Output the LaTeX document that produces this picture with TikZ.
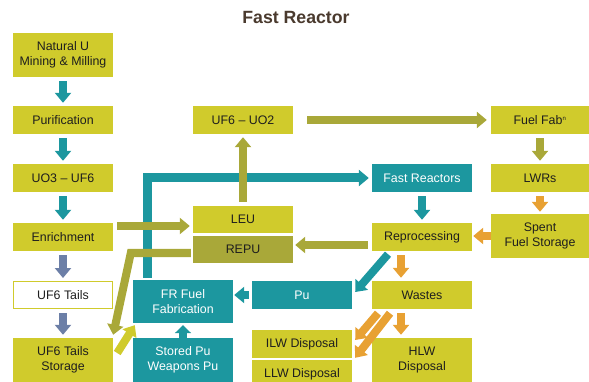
\documentclass[tikz,border=0pt]{standalone}
\usepackage{fontspec}
\setmainfont{Liberation Sans}
\usetikzlibrary{arrows.meta, calc}
\definecolor{cyel}{HTML}{D0CB2C}
\definecolor{cteal}{HTML}{1C979F}
\definecolor{colive}{HTML}{A9A839}
\definecolor{corange}{HTML}{E8A133}
\definecolor{cslate}{HTML}{6C7FA7}
\definecolor{ctitle}{HTML}{4A3A2E}
\definecolor{ctext}{HTML}{1E1E1E}
\tikzset{
  every picture/.style={font=\fontsize{12.4}{15}\selectfont},
  box/.style={fill=#1, text=ctext, align=center, inner sep=0pt, minimum width=100pt, minimum height=28pt},
  box/.default=cyel,
  tbox/.style={box=cteal, text=white},
  flow/.style={draw=#1, line width=8pt, shorten <=4pt, shorten >=3pt, -{Triangle[length=10pt, width=16pt]}},
  flow/.default=cteal,
  title/.style={font=\bfseries\fontsize{17.7}{20}\selectfont, text=ctitle},
}
\begin{document}
\begin{tikzpicture}[x=1pt, y=-1pt]
  \useasboundingbox (0,0) rectangle (589,382);
  \node[title] (title) at (296,18) {Fast Reactor};
  % left column
  \node[box, minimum height=44pt] (natu) at (63,55) {Natural U\\Mining \& Milling};
  \node[box] (purif) at (63,120) {Purification};
  \node[box] (uo3) at (63,178) {UO3 – UF6};
  \node[box] (enrich) at (63,237) {Enrichment};
  \node[box, fill=white, draw=cyel, line width=1pt, minimum width=99pt, minimum height=27pt] (tails) at (63,295) {UF6 Tails};
  \node[box, minimum height=44pt] (tailsstore) at (63,360) {UF6 Tails\\Storage};
  % middle
  \node[box] (uo2) at (243,120) {UF6 – UO2};
  \node[box, minimum height=27pt] (leu) at (243,219.5) {LEU};
  \node[box=colive, minimum height=27pt] (repu) at (243,249.5) {REPU};
  \node[tbox, minimum height=43pt] (frfab) at (183,301.5) {FR Fuel\\Fabrication};
  \node[tbox, minimum height=44pt] (storedpu) at (183,360) {Stored Pu\\Weapons Pu};
  \node[tbox] (pu) at (302,295) {Pu};
  \node[box] (ilw) at (302,344) {ILW Disposal};
  \node[box] (llw) at (302,374) {LLW Disposal};
  % right
  \node[tbox] (fastr) at (422,178) {Fast Reactors};
  \node[box] (reproc) at (422,237) {Reprocessing};
  \node[box] (wastes) at (422,295) {Wastes};
  \node[box, minimum height=44pt] (hlw) at (422,360) {HLW\\Disposal};
  \node[box, minimum width=98pt] (fuelfab) at (540,120) {Fuel Fab\textsuperscript{\fontsize{6}{6}\selectfont n}};
  \node[box, minimum width=98pt] (lwr) at (540,178) {LWRs};
  \node[box, minimum width=98pt, minimum height=44pt] (spent) at (540,236) {Spent\\Fuel Storage};

  % FR fuel back to the reactors
  \coordinate (f1) at ([xshift=15pt, yshift=2pt]frfab.north west);
  \draw[flow, line width=9pt, line join=miter, shorten <=0pt] (f1) -- (f1 |- fastr.west) -- (fastr.west);
  % front end
  \draw[flow] (natu) -- (purif);
  \draw[flow] (purif) -- (uo3);
  \draw[flow] (uo3) -- (enrich);
  \draw[flow=cslate] (enrich) -- (tails);
  \draw[flow=cslate] (tails) -- (tailsstore);
  \coordinate (e1) at ([xshift=4pt, yshift=11pt]enrich.east);
  \draw[flow=colive, shorten <=0pt] (e1) -- (e1 -| leu.west);
  \draw[flow=colive] (leu) -- (uo2);
  \draw[flow=colive, shorten <=14pt, shorten >=4pt] (uo2) -- (fuelfab);
  \draw[flow=colive] (fuelfab) -- (lwr);
  \draw[flow=corange, shorten >=2pt] (lwr) -- (spent);
  \draw[flow=corange, shorten <=0pt, shorten >=1pt] (spent.west) -- (spent.west -| reproc.east);
  \draw[flow] (fastr) -- (reproc);
  % recycled uranium
  \coordinate (r1) at ([yshift=-8pt]reproc.west);
  \draw[flow=colive, shorten >=2pt] (r1) -- (r1 -| repu.east);
  \coordinate (r2) at ([xshift=-2pt, yshift=-3.5pt]repu.west);
  \draw[flow=colive, line join=miter, shorten <=0pt, shorten >=0pt] (r2) -- ++(-60,0) -- ([yshift=3pt]tailsstore.north east);
  \draw[flow=cyel, shorten <=0pt, shorten >=0pt] ([xshift=4pt, yshift=7pt]tailsstore.east) -- ([xshift=2pt, yshift=-2pt]frfab.south west);
  % plutonium
  \coordinate (p1) at ([xshift=-34pt, yshift=-3pt]reproc.south);
  \draw[flow, shorten <=0pt, shorten >=0pt] (p1) -- ([xshift=3pt, yshift=3pt]pu.east);
  \draw[flow, shorten <=3pt, shorten >=1pt] (pu.west) -- (pu.west -| frfab.east);
  \draw[flow, shorten <=0pt, shorten >=2pt, -{Triangle[length=8pt, width=16pt]}] (storedpu) -- (frfab);
  % wastes
  \draw[flow=corange] ([xshift=-21pt]reproc.south) -- ([xshift=-21pt]wastes.north);
  \coordinate (w1) at ([xshift=-44pt, yshift=-4pt]wastes.south);
  \coordinate (w2) at ([xshift=-32pt, yshift=-4pt]wastes.south);
  \draw[flow=corange, shorten <=0pt, shorten >=0pt] (w1) -- ([xshift=3pt, yshift=4pt]ilw.east);
  \draw[flow=corange, shorten <=0pt, shorten >=0pt] (w2) -- ([xshift=3pt, yshift=2pt]llw.north east);
  \draw[flow=corange] ([xshift=-21pt]wastes.south) -- ([xshift=-21pt]hlw.north);
\end{tikzpicture}
\end{document}
